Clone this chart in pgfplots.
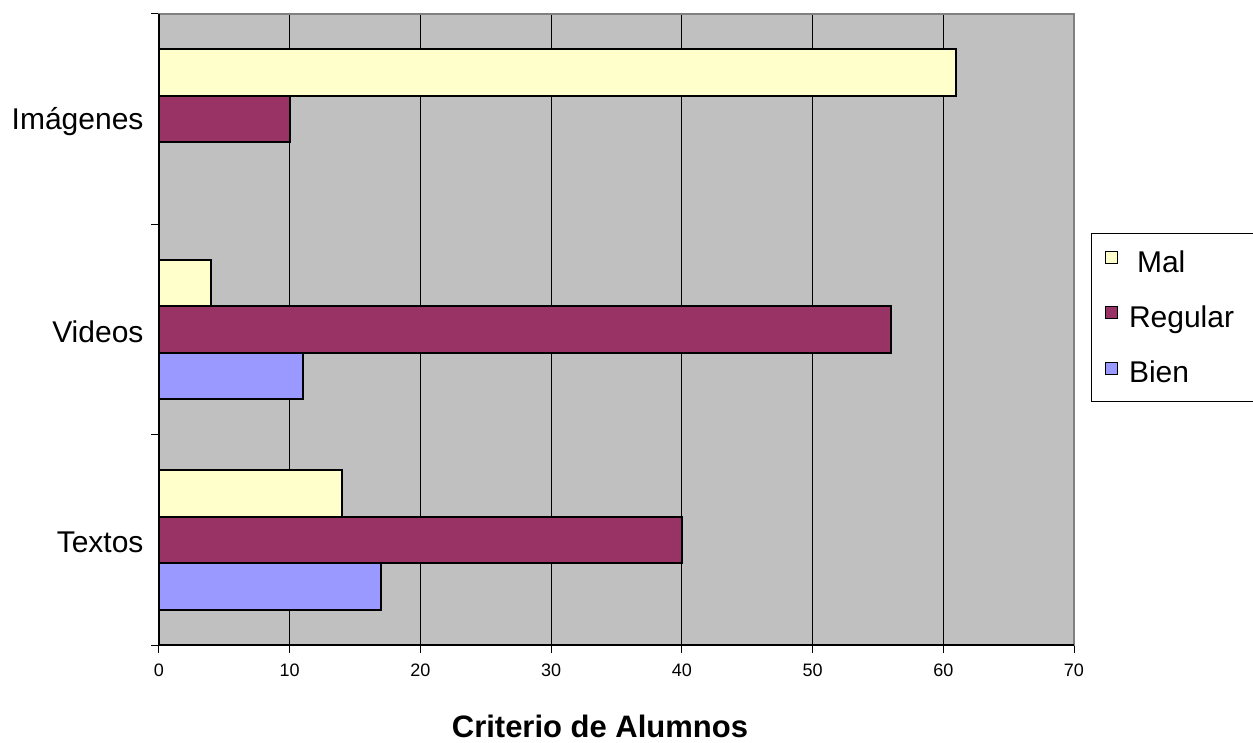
\documentclass[border=0pt]{standalone}
\usepackage{pgfplots}
\pgfplotsset{compat=1.18}
\usepackage{fontspec}
\setmainfont{Liberation Sans}
\definecolor{malc}{HTML}{FFFFCC}
\definecolor{regc}{HTML}{993366}
\definecolor{bienc}{HTML}{9999FF}
\definecolor{plotbg}{HTML}{C0C0C0}
\definecolor{framec}{HTML}{808080}
\pgfplotsset{
  sqleg/.style={legend image code/.code={%
    \draw[##1,draw=black,line width=1pt] (0pt,-1.5pt) rectangle (12pt,10.5pt);
    \path[draw=none,fill=none] (0pt,0pt) rectangle (22pt,1pt);}},
}
\begin{document}
\begin{tikzpicture}[x=1pt,y=1pt]
\useasboundingbox (0,0) rectangle (1253,742);
\begin{axis}[
  at={(159pt,97pt)}, anchor=south west,
  scale only axis, width=915pt, height=631pt,
  xmin=0, xmax=70, ymin=-0.5, ymax=2.5,
  xbar, bar width=46.5pt,
  axis background/.style={fill=plotbg},
  axis line style={draw=framec, line width=1.5pt},
  /pgf/number format/assume math mode=true,
  xtick={0,10,...,70}, xtick pos=bottom, tick align=outside,
  major tick length=8pt,
  xmajorgrids, major grid style={black, line width=1pt},
  x tick style={black, line width=1pt},
  xticklabel style={font=\fontsize{18}{22}\selectfont, yshift=-7pt},
  ytick={-0.5,0.5,1.5,2.5}, yticklabels={}, ytick pos=left,
  y tick style={black, line width=1pt},
  extra y ticks={0,1,2},
  extra y tick labels={Textos,Videos,Imágenes},
  extra y tick style={y tick style={draw=none}},
  yticklabel style={font=\fontsize{30}{36}\selectfont, xshift=-4pt, yshift=-2pt},
  legend style={at={(axis description cs:1.0186,0.653)}, anchor=north west,
    draw=black, line width=1pt, fill=white,
    font=\fontsize{30}{36}\selectfont, row sep=28pt,
    inner xsep=13pt, inner ysep=15pt},
  legend cell align=left,
  after end axis/.code={
    \draw[black,line width=1.5pt] (rel axis cs:0,1) -- (rel axis cs:0,0) -- (rel axis cs:1,0);
  },
]
% Mal (top bar in each group)
\addplot[sqleg, bar shift=46.5pt, fill=malc, draw=black, line width=2pt]
  coordinates {(14,0) (4,1) (61,2)};
% Regular (middle bar)
\addplot[sqleg, bar shift=0pt, fill=regc, draw=black, line width=2pt]
  coordinates {(40,0) (56,1) (10,2)};
% Bien (bottom bar)
\addplot[sqleg, bar shift=-46.5pt, fill=bienc, draw=black, line width=2pt]
  coordinates {(17,0) (11,1)};
\legend{\hspace{8pt}Mal, \makebox[112pt][l]{Regular}, Bien}
\end{axis}
\node[font=\bfseries\fontsize{31}{37}\selectfont, anchor=base] at (600,5) {Criterio de Alumnos};
\end{tikzpicture}
\end{document}
